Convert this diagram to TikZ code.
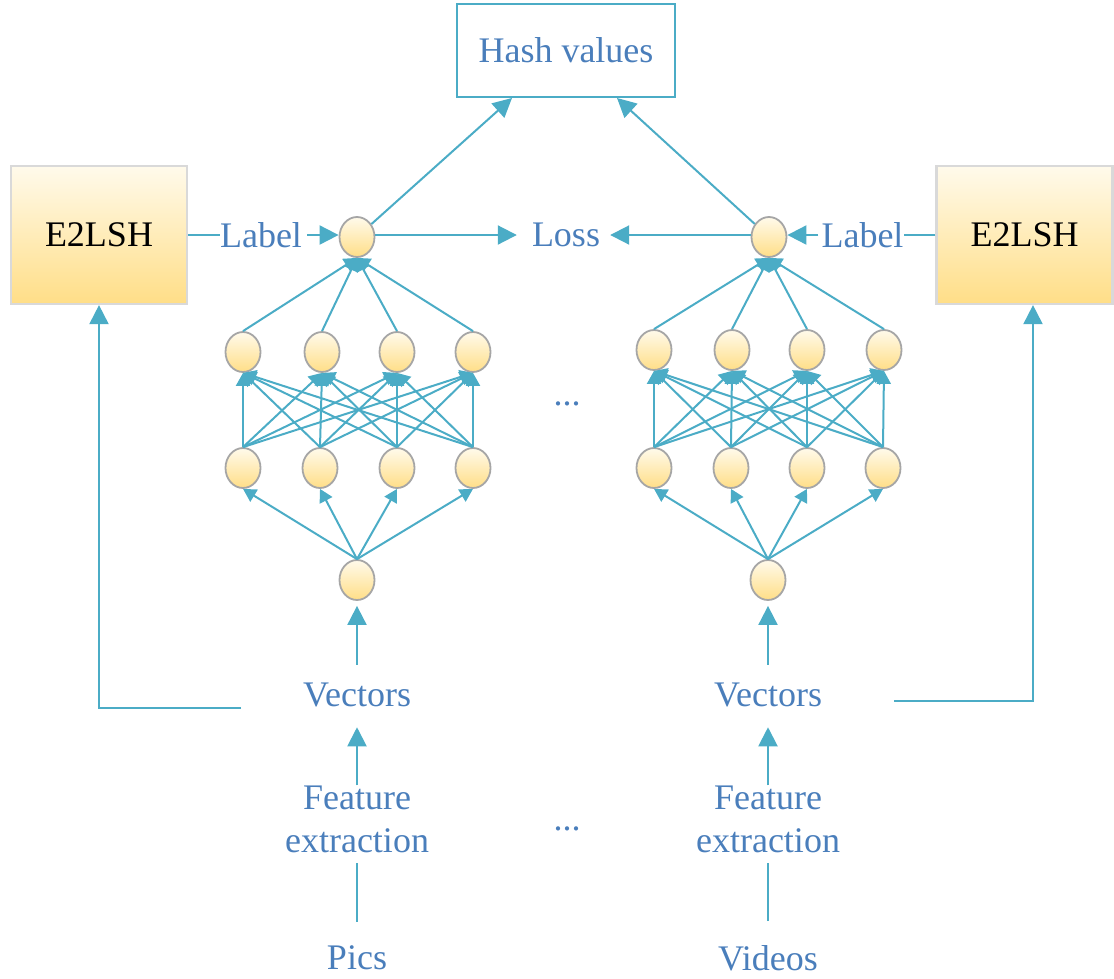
\documentclass[tikz,border=0pt]{standalone}
\usepackage{fontspec}
\setmainfont{Liberation Serif}
\usetikzlibrary{arrows.meta,shapes.geometric}
\definecolor{lc}{RGB}{75,172,198}
\definecolor{tc}{RGB}{74,126,187}
\definecolor{ng}{RGB}{166,166,166}
\definecolor{ytop}{RGB}{255,250,235}
\definecolor{ybot}{RGB}{255,222,135}
\begin{document}
\begin{tikzpicture}[x=1pt,y=-1pt,
 neuron/.style={ellipse,draw=ng,line width=1.8pt,top color=ytop,bottom color=ybot,minimum width=35pt,minimum height=40pt,inner sep=0pt},
 lshbox/.style={draw=black!15,line width=2.2pt,top color=ytop,bottom color=ybot,minimum width=176pt,minimum height=138pt,font=\fontsize{36}{43}\selectfont},
 txt/.style={text=tc,font=\fontsize{36}{43}\selectfont,inner sep=0pt,align=center},
 conn/.style={draw=lc,line width=2pt},
 arr/.style={conn,-{Triangle[length=19pt,width=19pt]}},
 narr/.style={conn,-{Triangle[length=13pt,width=14pt]}},
]
\useasboundingbox (0,0) rectangle (1114,978);

% boxes
\node[draw=lc,line width=2pt,minimum width=218pt,minimum height=93pt,txt] (hash) at (566,50.5) {Hash values};
\node[lshbox] (lshL) at (99,235) {E2LSH};
\node[lshbox] (lshR) at (1024.5,235) {E2LSH};

% texts
\node[txt] (labL) at (261,235) {Label};
\node[txt] (labR) at (862.5,235) {Label};
\node[txt] (loss) at (566,235) {Loss};
\node[txt] (dots1) at (567,404) {...};
\node[txt] (dots2) at (567,829) {...};

\node[txt] (vecL) at (357,695) {Vectors};
\node[txt] (featL) at (357,819) {Feature\\extraction};
\node[txt] (picsL) at (357,958) {Pics};
\node[txt] (vecR) at (768,695) {Vectors};
\node[txt] (featR) at (768,819) {Feature\\extraction};
\node[txt] (vidR) at (768,958) {Videos};

% left network
\node[neuron] (tL) at (357,237) {};
\node[neuron] (aL1) at (243,352) {};
\node[neuron] (aL2) at (322,352) {};
\node[neuron] (aL3) at (397,352) {};
\node[neuron] (aL4) at (473,352) {};
\node[neuron] (bL1) at (243,468) {};
\node[neuron] (bL2) at (320,468) {};
\node[neuron] (bL3) at (397,468) {};
\node[neuron] (bL4) at (473,468) {};
\node[neuron] (iL) at (357,580) {};

% right network
\node[neuron] (tR) at (769,237) {};
\node[neuron] (aR1) at (654,350) {};
\node[neuron] (aR2) at (732,350) {};
\node[neuron] (aR3) at (807,350) {};
\node[neuron] (aR4) at (884,350) {};
\node[neuron] (bR1) at (654,468) {};
\node[neuron] (bR2) at (731,468) {};
\node[neuron] (bR3) at (807,468) {};
\node[neuron] (bR4) at (883,468) {};
\node[neuron] (iR) at (768,580) {};

\foreach \s in {L,R}{
  \foreach \i in {1,...,4}{
    \draw[narr] (a\s\i.north) -- (t\s.south);
    \draw[narr] (i\s.north) -- (b\s\i.south);
    \foreach \j in {1,...,4}{
      \draw[narr] (b\s\i.north) -- (a\s\j.south);
    }
  }
}

% top connections
\draw[conn] (lshL.east) -- (labL.west);
\draw[arr,shorten <=5pt] (labL.east) -- (labL.east -| tL.west);
\draw[conn] (lshR.west) -- (labR.east);
\draw[arr,shorten <=3pt] (labR.west) -- (labR.west -| tR.east);
\draw[arr,shorten >=15pt] (loss.west -| tL.east) -- (loss.west);
\draw[arr,shorten >=10pt] (loss.east -| tR.west) -- (loss.east);
\draw[arr] (tL) -- ([xshift=-54pt]hash.south);
\draw[arr] (tR) -- ([xshift=51pt]hash.south);

% bottom connections
\foreach \s/\f/\v/\p in {L/featL/vecL/picsL, R/featR/vecR/vidR}{
  \draw[arr,shorten <=18pt,shorten >=5pt] (\v.north) -- (i\s.south);
  \draw[arr,shorten >=20pt] (\f.north) -- (\v.south);
  \draw[conn,shorten <=24pt,shorten >=10pt] (\p.north) -- (\f.south);
}

% feedback to E2LSH
\coordinate (fbL) at (241,708);
\coordinate (fbR) at (894,701);
\draw[arr] (fbL) -| (lshL.south);
\draw[arr] (fbR) -| ([xshift=8.5pt]lshR.south);
\end{tikzpicture}
\end{document}
